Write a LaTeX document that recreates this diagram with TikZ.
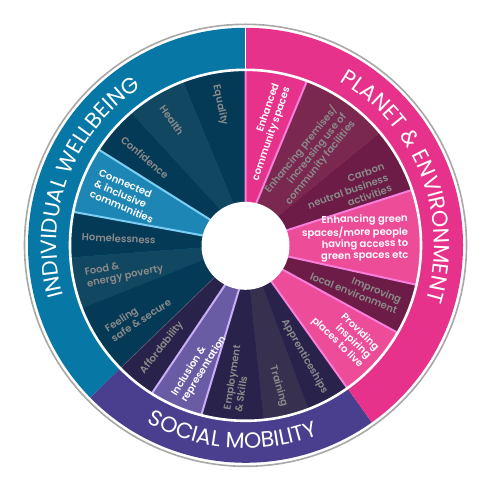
\documentclass[tikz,border=0pt]{standalone}
\usepackage{fontspec}
\setmainfont{Poppins}
\newfontfamily\bandfont{Poppins}
\newfontfamily\lblfont{Poppins SemiBold}
\usetikzlibrary{decorations.text}
\definecolor{bandblue}{HTML}{0777A6}
\definecolor{bandpink}{HTML}{E6328A}
\definecolor{bandpurple}{HTML}{4A3E8E}
\definecolor{tealA}{HTML}{053A57}
\definecolor{tealB}{HTML}{114760}
\definecolor{connblue}{HTML}{1E86B4}
\definecolor{connline}{HTML}{7CCFF4}
\definecolor{purA}{HTML}{29224A}
\definecolor{purB}{HTML}{37304F}
\definecolor{inclus}{HTML}{6A5BA5}
\definecolor{incline}{HTML}{C9AEF5}
\definecolor{enhpink}{HTML}{E6328A}
\definecolor{pinkB}{HTML}{EC4C98}
\definecolor{pinkline}{HTML}{F77FD9}
\definecolor{maroonA}{HTML}{7A2850}
\definecolor{maroonB}{HTML}{6C1C46}
\definecolor{lbltext}{HTML}{8A8A8A}
\definecolor{ringgray}{HTML}{A8A8A8}
\definecolor{sepgray}{HTML}{5A6478}
\newcommand{\seg}[5]{\fill[#5] (#1:175) arc[start angle=#1, end angle=#3, radius=175] -- (#4:42) arc[start angle=#4, end angle=#2, radius=42] -- cycle;}
\tikzset{
  lbl/.style={font=\lblfont\fontsize{10}{11.5}\selectfont, text=lbltext, inner sep=0pt},
  lblw/.style={lbl, text=white},
  bandtext/.style={decorate, decoration={text along path, text align=center, text color=white, text={#1}}}
}
\begin{document}
\begin{tikzpicture}[x=1pt,y=1pt]
\useasboundingbox (-245.5,-235.7) rectangle (254.5,245.3);
\fill[white] (-245.5,-235.7) rectangle (254.5,245.3);
% outer ring
\draw[ringgray, line width=1.6pt] (0,0) circle[radius=221];
% band sectors
\fill[bandblue] (0,0) -- (90:217.5) arc[start angle=90, end angle=224.5, radius=217.5] -- cycle;
\fill[bandpurple] (0,0) -- (224.5:217.5) arc[start angle=224.5, end angle=305.5, radius=217.5] -- cycle;
\fill[bandpink] (0,0) -- (-54.5:217.5) arc[start angle=-54.5, end angle=90, radius=217.5] -- cycle;
\draw[white, line width=0.8pt] (90:175) -- (90:217.5);
% wedges
\seg{90}{90}{110.9}{106}{tealA}
\seg{110.9}{106}{130.8}{125}{tealB}
\seg{130.8}{125}{146.9}{144}{tealA}
\seg{146.9}{144}{169}{167}{connblue}
\seg{169}{167}{184}{183}{tealA}
\seg{184}{183}{201}{199}{tealB}
\seg{201}{199}{224.5}{226}{tealA}
\seg{224.5}{226}{237.7}{243}{purA}
\seg{237.7}{243}{255.4}{262}{inclus}
\seg{255.4}{262}{276}{276}{purA}
\seg{276}{276}{291}{293}{purB}
\seg{291}{293}{305.5}{305.5}{purA}
\seg{-54.5}{-54.5}{-29.9}{-33.4}{pinkB}
\seg{-29.9}{-33.4}{-13}{-14.8}{maroonB}
\seg{-13}{-14.8}{18.4}{20}{pinkB}
\seg{18.4}{20}{40}{42}{maroonB}
\seg{40}{42}{69.5}{75.8}{maroonA}
\seg{69.5}{75.8}{90}{90}{enhpink}
% highlight borders
\draw[connline, line width=2pt] (146.9:175) -- (144:43) (169:175) -- (167:43);
\draw[incline, line width=2pt] (237.7:175) -- (243:43) (255.4:175) -- (262:43);
\draw[pinkline, line width=2pt] (90:175) -- (90:43) (69.5:175) -- (75.8:43)
  (18.4:175) -- (20:43) (-13:175) -- (-14.8:43) (-29.9:175) -- (-33.4:43)
  (-54.5:175) -- (-54.5:43);
\draw[sepgray, line width=0.6pt] (224.5:175) -- (226:43);
% separating ring and hole
\draw[white, line width=2.6pt] (0,0) circle[radius=175.5];
\fill[white] (0,-0.5) circle[radius=44];
% band titles
\path[bandtext={|\bandfont\fontsize{22}{26}\selectfont|INDIVIDUAL WELLBEING}] (230:189) arc[start angle=230, end angle=89, radius=189];
\path[bandtext={|\bandfont\fontsize{22}{26}\selectfont|PLANET {\&} ENVIRONMENT}] (90:189) arc[start angle=90, end angle=-47, radius=189];
\path[bandtext={|\bandfont\fontsize{22}{26}\selectfont|SOCIAL MOBILITY}] (216:203) arc[start angle=216, end angle=316, radius=203];
% labels, left half (reading inward)
\node[lbl, anchor=west, rotate=-78] (equality) at (100.5:163) {Equality};
\node[lbl, anchor=west, rotate=-55] (health) at (121:162) {Health};
\node[lbl, anchor=west, rotate=-40.5] (confidence) at (139:163) {Confidence};
\node[lblw, anchor=west, rotate=-23, align=left] (connected) at (157.5:163) {Connected\\\& inclusive\\communities};
\node[lbl, anchor=west, rotate=-3] (homeless) at (177:164) {Homelessness};
\node[lbl, anchor=west, rotate=12, align=left] (food) at (192:163) {Food \&\\energy poverty};
\node[lbl, anchor=west, rotate=33, align=left] (feeling) at (213:163) {Feeling\\safe \& secure};
\node[lbl, anchor=west, rotate=52] (afford) at (231:164) {Affordability};
\node[lblw, anchor=west, rotate=58, align=left] (inclusion) at (246.5:167) {Inclusion \&\\representation};
\node[lbl, anchor=west, rotate=81, align=left] (employment) at (265.5:166) {Employment\\\& Skills};
% labels, right half (reading outward)
\node[lbl, anchor=east, rotate=-74] (training) at (-76.5:166) {Training};
\node[lbl, anchor=east, rotate=-60.5] (apprent) at (-61.7:168) {Apprenticeships};
\node[lblw, anchor=east, rotate=-44, align=right] (providing) at (-42.2:167) {Providing\\inspiring\\places to live};
\node[lbl, anchor=east, rotate=-22, align=right] (improving) at (-21.3:165) {Improving\\local environment};
\node[lblw, anchor=east, rotate=1, align=right] (green) at (2.8:163) {Enhancing green\\spaces/more people\\having access to\\green spaces etc};
\node[lbl, anchor=east, rotate=20, align=right] (carbon) at (25.7:158) {Carbon\\neutral business\\activities};
\node[lbl, anchor=east, rotate=51, align=right] (premises) at (53:164) {Enhancing premises/\\increasing use of\\community facilities};
\node[lblw, anchor=east, rotate=71, align=right] (enhanced) at (77:164) {Enhanced\\community spaces};
\end{tikzpicture}
\end{document}
